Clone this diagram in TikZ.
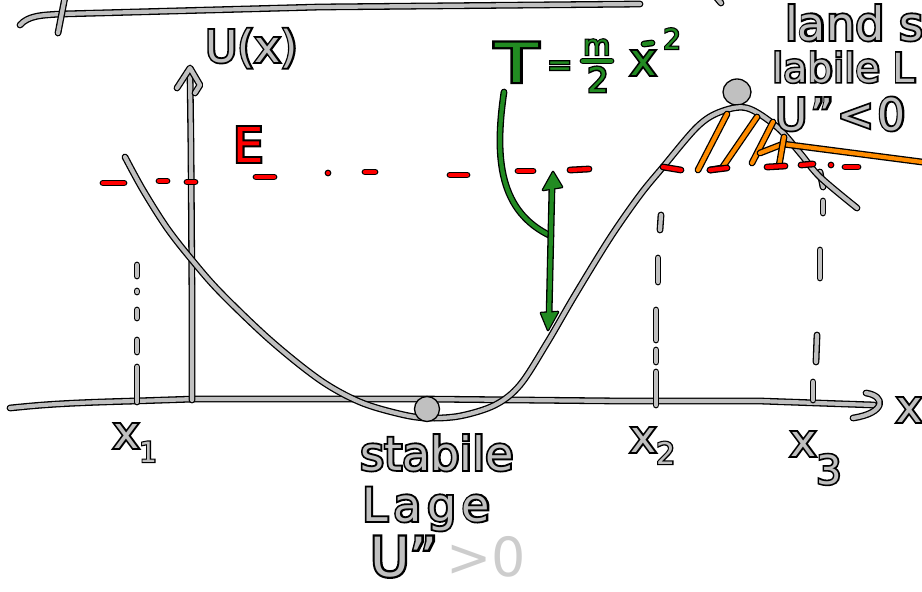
\documentclass[tikz,border=0pt]{standalone}
\usepackage{fontspec}
\setmainfont{DejaVu Sans}
\definecolor{lg}{RGB}{192,192,192}
\definecolor{lgb}{RGB}{205,205,205}
\definecolor{rd}{RGB}{255,0,0}
\definecolor{gr}{RGB}{34,139,34}
\definecolor{og}{RGB}{255,140,0}
% outlined text: emboldened black copy under a plain coloured copy
\newcommand{\otx}[2]{\rlap{\addfontfeature{FakeBold=8}\textcolor{black}{#2}}\textcolor{#1}{#2}}
\newcommand{\gtx}[1]{\otx{lg}{#1}}
\newcommand{\fs}[1]{\fontsize{#1}{#1}\selectfont}
\tikzset{
  gs/.style={draw=black, line width=1.3pt, double=lg, double distance=4.2pt, line cap=round, line join=round},
  rs/.style={gs, double=rd},
  gns/.style={gs, double=gr},
  os/.style={gs, double=og},
  lab/.style={inner sep=0pt, anchor=base west},
  ball/.style={fill=lg, draw=black, line width=1.3pt}
}
\begin{document}
\begin{tikzpicture}[x=1pt,y=-1pt]
\useasboundingbox (0,0) rectangle (922,592);
\clip (0,0) rectangle (922,592);
% top fragments
\draw[gs] (20,25) .. controls (28,16) and (40,15) .. (62,14) -- (320,7) -- (640,4);
\draw[gs] (65,-3) -- (58,33);
\draw[gs] (716,-3) -- (721,3);
% axes
\draw[gs] (10,408) .. controls (40,405) and (60,403) .. (135,401) -- (195,399) -- (420,399) -- (620,401) -- (760,401) -- (874,405);
\draw[gs] (866,393) .. controls (886,396) and (886,413) .. (853,418);
\draw[gs] (192,400) -- (192,300) -- (191,150) -- (190,72);
\draw[gs] (177,88) -- (190,68) -- (200,85) -- (195,93);
% ticks and dashed verticals
\foreach \a/\b/\c/\d in {137/265/137/276, 137/291/137/292, 137/310/137/318, 137/340/137/352, 137/367/137/402,
  661/215/660/230, 658/258/658/282, 656/310/656/340, 656/350/656/362, 656/372/656/405,
  820/172/823/187, 823/201/823/213, 820/250/820/278, 817/335/816/362, 813/382/813/400}
  \draw[gs] (\a,\b) -- (\c,\d);
% top ball
\draw[ball] (737,92) ellipse (14 and 13);
% potential curve
\draw[gs] plot[smooth, tension=0.55] coordinates {(125,157) (143,190) (167,228) (192,260) (220,292) (270,340) (320,380) (360,402) (400,414) (427,418) (460,416) (495,405) (520,385) (547,343) (575,295) (610,238) (640,195) (663,167) (697,127) (720,112) (747,108) (777,127) (800,153) (820,177) (857,208)};
% bottom ball
\draw[ball] (427,409) circle (12.5);
% orange hatching
\draw[os] (698,170) -- (727,114);
\draw[os] (710,170) -- (722,168) -- (757,117);
\draw[os] (752,163) -- (773,122);
\draw[os] (760,153) -- (783,144) -- (922,162);
\draw[os] (784,137) -- (779,166);
% red energy line
\foreach \a/\b/\c/\d in {103/183/124/183, 159/181/167/181, 187/182/195/182, 256/177/274/177, 328/173/328/173, 365/172/375/172,
  450/175/467/175, 518/171/533/171, 570/170/589/169,
  663/167/681/170, 710/170/727/168, 767/167/785/166, 801/165/813/164, 831/165/831/165, 845/167/858/167}
  \draw[rs] (\a,\b) -- (\c,\d);
% green kinetic energy
\draw[gns] (504,92) .. controls (494,160) and (500,212) .. (551,236);
\draw[black, line width=6.8pt, line cap=round] (552,186) -- (549,318);
\filldraw[black, line width=2.6pt, line join=round] (553,172) -- (543,190) -- (562,187) -- cycle;
\filldraw[black, line width=2.6pt, line join=round] (548,330) -- (541,313) -- (558,312) -- cycle;
\draw[gr, line width=4.2pt, line cap=round] (552,186) -- (549,318);
\fill[gr] (553,172) -- (543,190) -- (562,187) -- cycle;
\fill[gr] (548,330) -- (541,313) -- (558,312) -- cycle;
% formula T = m/2 xdot^2
\node[lab] (tlab) at (495,82) {\fs{54}\otx{gr}{\scalebox{1.3}[1]{T}}};
\node[lab] (eqlab) at (547,75) {\fs{30}\otx{gr}{=}};
\node[lab] (mlab) at (583,55) {\fs{28}\otx{gr}{m}};
\draw[gns] (583,61) -- (611,61);
\node[lab] (twolab) at (587,92) {\fs{34}\otx{gr}{2}};
\node[lab] (xdlab) at (630,75) {\fs{44}\otx{gr}{x}};
\draw[gns] (644,44) -- (652,43);
\node[lab] (sqlab) at (663,49) {\fs{28}\otx{gr}{2}};
% labels
\node[lab] (ulab) at (205,62) {\fs{44}\gtx{U(x)}};
\node[lab] (elab) at (233,162) {\fs{48}\otx{rd}{E}};
\node[lab] (x1lab) at (113,448) {\fs{44}\gtx{x\raisebox{-14pt}{\fs{28}1}}};
\node[lab] (x2lab) at (630,452) {\fs{44}\gtx{x\raisebox{-12pt}{\fs{30}2}}};
\node[lab] (x3lab) at (790,456) {\fs{44}\gtx{x\raisebox{-28pt}{\fs{40}3}}};
\node[lab] (xlab) at (896,422) {\fs{44}\gtx{x}};
\node[lab] (stab) at (360,470) {\fs{46}\gtx{stabile}};
\node[lab] (lage) at (362,521) {\fs{46}\addfontfeature{LetterSpace=12}\gtx{Lage}};
\node[lab] (upp) at (370,576) {\fs{54}\gtx{U\char34}\textcolor{lgb}{\,>0}};
\node[lab] (land) at (785,40) {\fs{46}\gtx{land s}};
\node[lab] (labl) at (772,82) {\fs{40}\gtx{labile L}};
\node[lab] (ulow) at (775,130) {\fs{44}\addfontfeature{LetterSpace=8}\gtx{U\char34<0}};
\end{tikzpicture}
\end{document}
